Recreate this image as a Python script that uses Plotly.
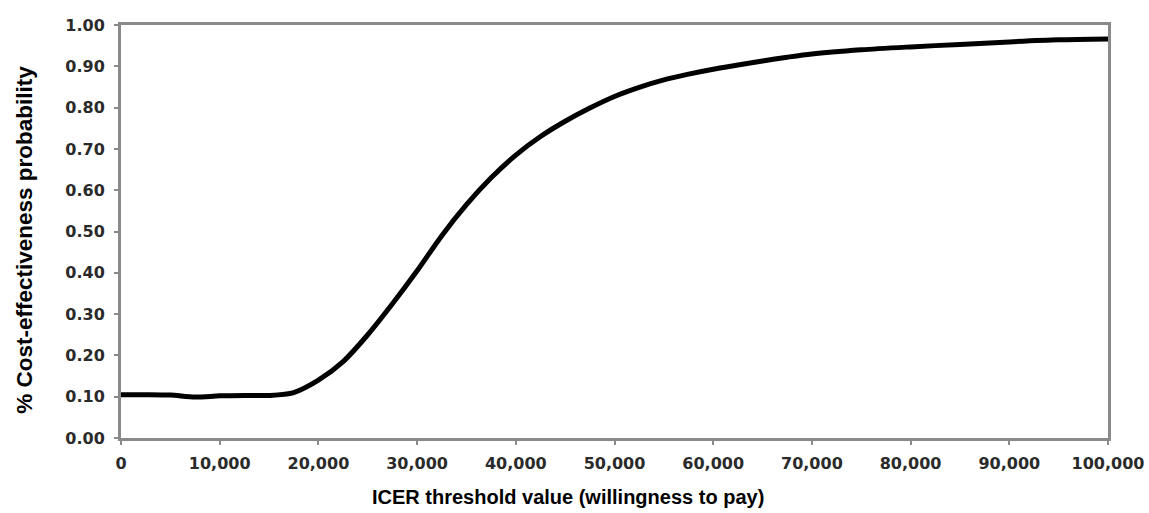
import plotly.graph_objects as go

wtp = [0, 2500, 5000, 7500, 10000, 12500, 15000, 17500, 20000, 22500, 25000,
       27500, 30000, 32500, 35000, 37500, 40000, 42500, 45000, 47500, 50000,
       52500, 55000, 57500, 60000, 62500, 65000, 67500, 70000, 75000, 80000,
       85000, 90000, 95000, 100000]
prob = [0.105, 0.105, 0.104, 0.099, 0.102, 0.103, 0.103, 0.110, 0.140, 0.185, 0.250,
        0.325, 0.405, 0.490, 0.565, 0.630, 0.685, 0.730, 0.767, 0.799, 0.827,
        0.849, 0.867, 0.881, 0.893, 0.903, 0.913, 0.922, 0.930, 0.940, 0.947,
        0.953, 0.959, 0.964, 0.966]

x_ticks = [0, 10000, 20000, 30000, 40000, 50000, 60000, 70000, 80000, 90000, 100000]
x_labels = ["0", "10,000", "20,000", "30,000", "40,000", "50,000", "60,000",
            "70,000", "80,000", "90,000", "100,000"]
y_ticks = [0.0, 0.1, 0.2, 0.3, 0.4, 0.5, 0.6, 0.7, 0.8, 0.9, 1.0]
y_labels = ["0.00", "0.10", "0.20", "0.30", "0.40", "0.50", "0.60", "0.70",
            "0.80", "0.90", "1.00"]

x_title = "ICER threshold value (willingness to pay)"
y_title = "% Cost-effectiveness probability"

fig = go.Figure()
fig.add_trace(go.Scatter(x=wtp, y=prob, mode="lines",
                         line=dict(color="black", width=5, shape="spline", smoothing=0.8),
                         showlegend=False, hoverinfo="skip"))

tick_font = dict(family="DejaVu Sans", size=16, color="#2a2a2a", weight="bold")

axis_common = dict(showline=True, linecolor="#8a8a8a", linewidth=3, mirror=True,
                   ticks="outside", tickcolor="#8a8a8a", ticklen=4, tickwidth=2,
                   showgrid=False, zeroline=False, tickfont=tick_font, automargin=False)

fig.update_xaxes(range=[0, 100000], tickvals=x_ticks, ticktext=x_labels,
                 ticklabelstandoff=5, ticklabeloverflow="allow", **axis_common)
fig.update_yaxes(range=[0, 1.0], tickvals=y_ticks, ticktext=y_labels,
                 ticklabelstandoff=6, **axis_common)

fig.add_annotation(text=x_title, xref="paper", yref="paper", x=0.453, y=0,
                   yshift=-59, xanchor="center", yanchor="middle", showarrow=False,
                   font=dict(family="Liberation Sans", size=20, color="black", weight="bold"))
fig.add_annotation(text=y_title, xref="paper", yref="paper", x=0, y=0.48,
                   xshift=-96, xanchor="center", yanchor="middle", showarrow=False,
                   textangle=-90,
                   font=dict(family="Liberation Sans", size=22.5, color="black", weight="bold"))

fig.update_layout(width=1149, height=513, paper_bgcolor="white", plot_bgcolor="white",
                  margin=dict(l=121, r=41, t=25, b=75))

fig.write_html("out.html", config={"displayModeBar": False},
               post_script="document.body.style.margin='0';document.body.style.overflow='hidden';")
